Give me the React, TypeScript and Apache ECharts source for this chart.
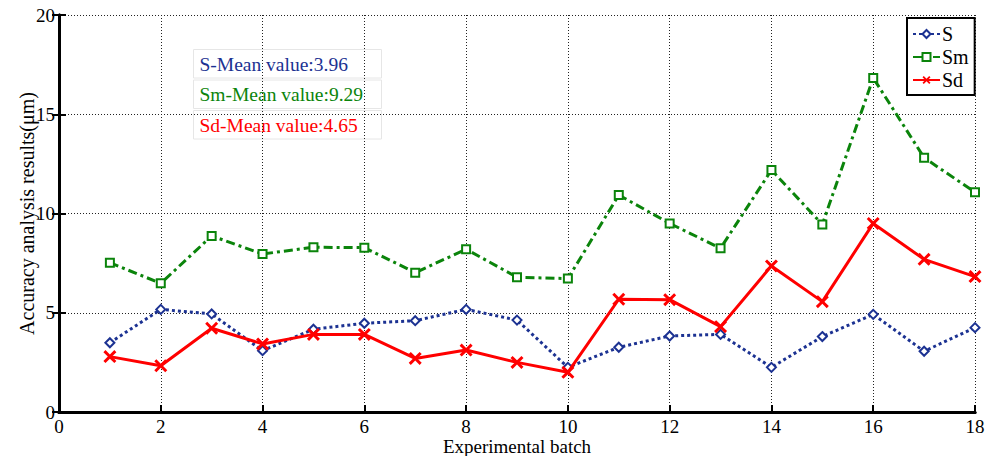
import React, { useEffect, useRef } from "react";
import * as echarts from "echarts";

const batches = [1, 2, 3, 4, 5, 6, 7, 8, 9, 10, 11, 12, 13, 14, 15, 16, 17, 18];
const sValues = [3.49, 5.17, 4.94, 3.09, 4.17, 4.47, 4.6, 5.17, 4.63, 2.25, 3.26, 3.83, 3.91, 2.25, 3.8, 4.92, 3.06, 4.25];
const smValues = [7.52, 6.48, 8.87, 7.96, 8.3, 8.28, 7.02, 8.2, 6.79, 6.72, 10.93, 9.5, 8.25, 12.19, 9.45, 16.83, 12.81, 11.07];
const sdValues = [2.79, 2.33, 4.22, 3.43, 3.91, 3.91, 2.7, 3.12, 2.5, 2.0, 5.68, 5.66, 4.3, 7.36, 5.56, 9.5, 7.69, 6.82];
const seriesNames = ["S", "Sm", "Sd"];
const meanLabels = ["S-Mean value:3.96", "Sm-Mean value:9.29", "Sd-Mean value:4.65"];
const xAxisName = "Experimental batch";
const yAxisName = "Accuracy analysis results(μm)";

const FONT = "'Liberation Serif', 'Times New Roman', serif";
const BLUE = "#1c3292";
const GREEN = "#0b840b";
const RED = "#ff0000";

const pairs = (vals: number[]) => batches.map((b, i) => [b, vals[i]]);

const X_SYMBOL =
  "path://M0,1.6 L1.6,0 L5,3.4 L8.4,0 L10,1.6 L6.6,5 L10,8.4 L8.4,10 L5,6.6 L1.6,10 L0,8.4 L3.4,5 Z";

export default function App() {
  const ref = useRef<HTMLDivElement>(null);
  useEffect(() => {
    if (!ref.current) return;
    const chart = echarts.init(ref.current, undefined, { renderer: "svg" });
    const axisLine = { show: true, lineStyle: { color: "#000", width: 3 } };
    const axisTick = { show: true, inside: true, length: 7, lineStyle: { color: "#000", width: 2 } };
    const splitLine = { show: true, lineStyle: { color: "#222", width: 1, type: [1, 2] } };
    const textStyle = { fontFamily: FONT, fontSize: 19, color: "#000" };
    const boxes = meanLabels.map((t, i) => ({
      type: "group",
      left: 193,
      top: 49 + i * 30.5,
      children: [
        {
          type: "rect",
          shape: { x: 0, y: 0, width: 188, height: 28.5 },
          style: { fill: "#fff", stroke: "#e6e6e6", lineWidth: 1 },
        },
        {
          type: "text",
          x: 6,
          y: 14.5,
          style: {
            text: t,
            fill: [BLUE, GREEN, RED][i],
            font: `19.5px ${FONT}`,
            verticalAlign: "middle",
          },
        },
      ],
    }));
    chart.setOption({
      animation: false,
      backgroundColor: "#fff",
      textStyle: { fontFamily: FONT },
      grid: { left: 59, right: 20, top: 15, bottom: 44, containLabel: false, outerBoundsMode: "none" },
      legend: {
        show: true,
        orient: "vertical",
        left: 907,
        top: 18,
        padding: [6, 6, 5, 5],
        itemWidth: 27,
        itemHeight: 10,
        itemGap: 3,
        borderColor: "#000",
        borderWidth: 2,
        borderRadius: 0,
        backgroundColor: "#fff",
        textStyle: { fontFamily: FONT, fontSize: 20, color: "#000", padding: [0, 0, 0, -3] },
        data: seriesNames,
      },
      xAxis: [
        {
          type: "value",
          min: 0,
          max: 18,
          interval: 2,
          name: xAxisName,
          nameLocation: "middle",
          nameGap: 25,
          nameMoveOverlap: false,
          nameTextStyle: { ...textStyle, lineHeight: 18 },
          axisLine,
          axisTick,
          axisLabel: { ...textStyle, lineHeight: 16, margin: 6 },
          splitLine,
        },
        {
          type: "value",
          position: "top",
          min: 0,
          max: 18,
          interval: 2,
          axisLine,
          axisTick: { show: false },
          axisLabel: { show: false },
          splitLine: { show: false },
        },
      ],
      yAxis: [
        {
          type: "value",
          min: 0,
          max: 20,
          interval: 5,
          name: yAxisName,
          nameLocation: "middle",
          nameGap: 22,
          nameMoveOverlap: false,
          nameTextStyle: { ...textStyle, fontSize: 20 },
          axisLine,
          axisTick,
          axisLabel: { ...textStyle, margin: 4 },
          splitLine,
        },
        {
          type: "value",
          position: "right",
          min: 0,
          max: 20,
          interval: 5,
          axisLine,
          axisTick,
          axisLabel: { show: false },
          splitLine: { show: false },
        },
      ],
      series: [
        {
          name: seriesNames[0],
          type: "line",
          data: pairs(sValues),
          symbol: "emptyDiamond",
          symbolSize: 9,
          showAllSymbol: true,
          lineStyle: { color: BLUE, width: 3, type: [3, 3] },
          itemStyle: { color: BLUE, borderColor: BLUE, borderWidth: 3.5 },
          z: 3,
        },
        {
          name: seriesNames[1],
          type: "line",
          data: pairs(smValues),
          symbol: "emptyRect",
          symbolSize: 8,
          lineStyle: { color: GREEN, width: 3, type: [9, 4, 3, 4] },
          itemStyle: { color: GREEN, borderColor: GREEN, borderWidth: 3 },
          z: 3,
        },
        {
          name: seriesNames[2],
          type: "line",
          data: pairs(sdValues),
          symbol: X_SYMBOL,
          symbolSize: 13,
          lineStyle: { color: RED, width: 3 },
          itemStyle: { color: RED },
          z: 4,
        },
      ],
      graphic: boxes,
    });
    return () => chart.dispose();
  }, []);
  return <div ref={ref} style={{ width: 995, height: 456, position: "absolute", left: 0, top: 0 }} />;
}
